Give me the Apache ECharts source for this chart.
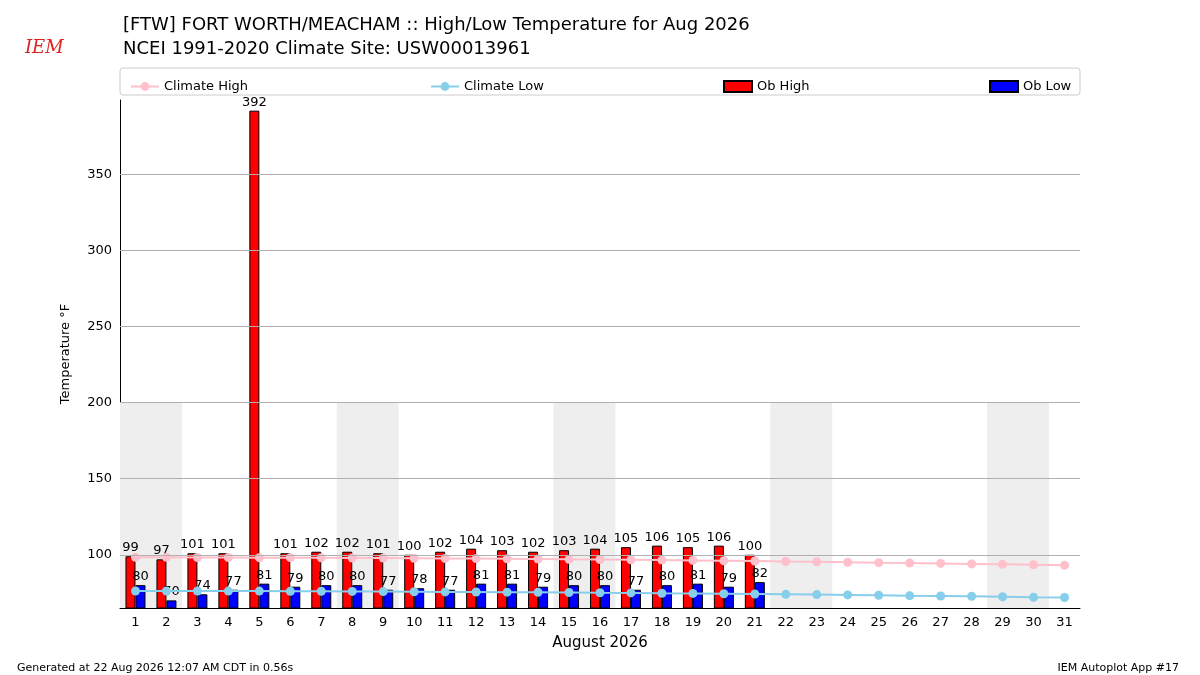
<!DOCTYPE html>
<html><head><meta charset="utf-8">
<script src="https://cdn.jsdelivr.net/npm/echarts@6/dist/echarts.min.js"></script>
<style>body{margin:0}#c{width:1200px;height:675px}</style></head>
<body><div id="c"></div>
<script>
var days = [];
for (var d = 1; d <= 31; d++) days.push(String(d));
var obHigh = [99,97,101,101,392,101,102,102,101,100,102,104,103,102,103,104,105,106,105,106,100];
var obLow = [80,70,74,77,81,79,80,80,77,78,77,81,81,79,80,80,77,80,81,79,82];
var climHigh = [98.3,98.3,98.2,98.2,98.1,98.1,98.0,97.9,97.8,97.7,97.6,97.5,97.3,97.2,97.0,96.9,96.7,96.5,96.3,96.1,95.9,95.6,95.4,95.1,94.8,94.6,94.3,94.0,93.7,93.4,93.1];
var climLow = [76.2,76.2,76.2,76.1,76.1,76.0,76.0,75.9,75.8,75.7,75.6,75.5,75.4,75.3,75.2,75.0,74.9,74.7,74.6,74.4,74.2,74.0,73.8,73.6,73.4,73.1,72.9,72.7,72.4,72.1,71.9];
var yTicks = [100,150,200,250,300,350];
var weekends = [[0.5,2.5],[7.5,9.5],[14.5,16.5],[21.5,23.5],[28.5,30.5]];

var chart = echarts.init(document.getElementById('c'));
var font = 'DejaVu Sans';
var lbl = {show: true, position: 'top', color: '#000', fontSize: 13, fontFamily: font, distance: 2};
chart.setOption({
    animation: false,
    textStyle: {fontFamily: font},
    title: [
        {text: '[FTW] FORT WORTH/MEACHAM :: High/Low Temperature for Aug 2026\nNCEI 1991-2020 Climate Site: USW00013961',
         left: 118, top: 8, textStyle: {fontSize: 18, fontWeight: 'normal', lineHeight: 24, color: '#000'}},
        {text: 'IEM', left: 20, top: 34, textStyle: {fontSize: 18, fontStyle: 'italic', fontWeight: 'normal', color: '#d22', fontFamily: 'DejaVu Serif'}},
        {text: 'Generated at 22 Aug 2026 12:07 AM CDT in 0.56s', left: 12, top: 658, textStyle: {fontSize: 11, fontWeight: 'normal', color: '#000'}},
        {text: 'IEM Autoplot App #17', right: 16, top: 658, textStyle: {fontSize: 11, fontWeight: 'normal', color: '#000'}}
    ],
    graphic: [{type: 'rect', shape: {x: 120, y: 68, width: 960, height: 27, r: 3},
        style: {fill: 'none', stroke: '#ccc', lineWidth: 1}}],
    legend: [
        {data: ['Climate High'], left: 125, top: 75},
        {data: ['Climate Low'], left: 425, top: 75},
        {data: [{name: 'Ob High', icon: 'rect'}], left: 718, top: 75},
        {data: [{name: 'Ob Low', icon: 'rect'}], left: 984, top: 75}
    ].map(function (l) {
        l.itemWidth = 28; l.itemHeight = 11; l.itemGap = 8;
        l.textStyle = {fontSize: 13, color: '#000'};
        return l;
    }),
    grid: {left: 120, right: 120, top: 100, bottom: 67},
    xAxis: [{
        type: 'category', data: days,
        name: 'August 2026', nameLocation: 'middle', nameGap: 28,
        nameTextStyle: {fontSize: 15, color: '#000'},
        axisLine: {lineStyle: {color: '#000'}},
        axisTick: {alignWithLabel: true, lineStyle: {color: '#000'}},
        axisLabel: {color: '#000', fontSize: 13}
    }, {
        type: 'value', min: 0.5, max: 31.5, show: false
    }],
    yAxis: {
        type: 'value', min: 65, max: 399, interval: 5,
        name: 'Temperature °F', nameLocation: 'middle', nameGap: 48,
        nameTextStyle: {fontSize: 13, color: '#000'},
        axisLine: {show: true, lineStyle: {color: '#000'}},
        axisTick: {show: false},
        axisLabel: {color: '#000', fontSize: 13, interval: 0,
            formatter: function (v) { return yTicks.indexOf(v) >= 0 ? v : ''; }},
        splitLine: {show: false}
    },
    series: [
        {name: 'weekend', type: 'line', xAxisIndex: 1, data: [], silent: true,
         markArea: {silent: true, itemStyle: {color: '#eeeeee'},
            data: weekends.map(function (w) { return [{xAxis: w[0], yAxis: 65}, {xAxis: w[1], yAxis: 200}]; })},
         markLine: {silent: true, symbol: 'none', label: {show: false},
            lineStyle: {color: '#b0b0b0', type: 'solid', width: 1},
            data: yTicks.map(function (t) { return {yAxis: t}; })}},
        {name: 'Ob High', type: 'bar', data: obHigh, barWidth: 10, barGap: '0%', z: 3,
         itemStyle: {color: '#ff0000', borderColor: '#000', borderWidth: 1}, label: lbl},
        {name: 'Ob Low', type: 'bar', data: obLow, barWidth: 10, z: 3,
         itemStyle: {color: '#0000ff', borderColor: '#000', borderWidth: 1}, label: lbl},
        {name: 'Climate High', type: 'line', data: climHigh, symbol: 'circle', symbolSize: 9, z: 4,
         itemStyle: {color: '#ffc0cb'}, lineStyle: {color: '#ffc0cb', width: 2}},
        {name: 'Climate Low', type: 'line', data: climLow, symbol: 'circle', symbolSize: 9, z: 4,
         itemStyle: {color: '#87ceeb'}, lineStyle: {color: '#87ceeb', width: 2}}
    ]
});
</script></body></html>
